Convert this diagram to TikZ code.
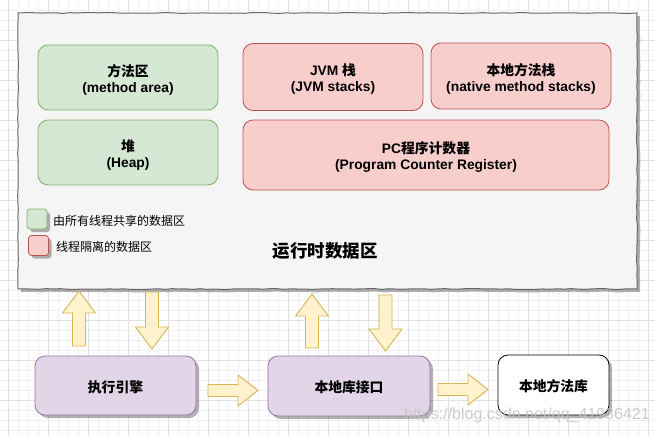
\documentclass[tikz,border=0pt]{standalone}
\usepackage{fontspec}
\setmainfont{Liberation Sans}
\newfontfamily\cjk{Noto Sans CJK SC}
\usetikzlibrary{shadows,decorations.pathmorphing}
\definecolor{gfill}{HTML}{D5E8D4}\definecolor{gline}{HTML}{82B366}
\definecolor{rfill}{HTML}{F8CECC}\definecolor{rline}{HTML}{B85450}
\definecolor{pfill}{HTML}{E1D5E7}\definecolor{pline}{HTML}{9673A6}
\definecolor{yfill}{HTML}{FFF2CC}\definecolor{yline}{HTML}{D6B656}
\definecolor{bgfill}{HTML}{F5F5F5}\definecolor{bgline}{HTML}{666666}
\definecolor{gridminor}{HTML}{F1F1F1}\definecolor{gridmajor}{HTML}{E2E2E2}
\definecolor{wmark}{HTML}{C4C4C4}
\newcommand\blkup[3]{\draw[blk] (#1-6.5,#3) -- (#1-6.5,#2+22) -- (#1-16.5,#2+22) -- (#1,#2) -- (#1+16.5,#2+22) -- (#1+6.5,#2+22) -- (#1+6.5,#3) -- cycle;}
\newcommand\blkdown[3]{\draw[blk] (#1-6.5,#2) -- (#1-6.5,#3-22) -- (#1-16.5,#3-22) -- (#1,#3) -- (#1+16.5,#3-22) -- (#1+6.5,#3-22) -- (#1+6.5,#2) -- cycle;}
\newcommand\blkright[3]{\draw[blk] (#2,#1-6) -- (#3-20,#1-6) -- (#3-20,#1-15.5) -- (#3,#1) -- (#3-20,#1+15.5) -- (#3-20,#1+6) -- (#2,#1+6) -- cycle;}
\begin{document}
\begin{tikzpicture}[x=1pt,y=-1pt,
  box/.style={draw, rounded corners=10pt, line width=0.8pt, inner sep=0pt},
  txt/.style={align=center, inner sep=0pt, font=\bfseries\fontsize{13.8}{16}\selectfont},
  greenbox/.style={box, fill=gfill, draw=gline, minimum width=180pt, minimum height=65pt},
  redbox/.style={box, fill=rfill, draw=rline, minimum width=180pt, minimum height=67pt},
  shadowed/.style={drop shadow={shadow xshift=3pt, shadow yshift=-3pt, opacity=0.3, fill=black}},
  purplebox/.style={box, fill=pfill, draw=pline, shadowed},
  whitebox/.style={box, fill=white, draw=black, shadowed},
  legbox/.style={draw, rounded corners=3pt, line width=0.8pt, minimum size=20pt, inner sep=0pt, shadowed},
  legtext/.style={anchor=west, inner sep=0pt, font=\fontsize{12}{14}\selectfont},
  blk/.style={fill=yfill, draw=yline, line width=0.9pt, line join=miter},
  sketch/.style={decorate, decoration={random steps, segment length=7pt, amplitude=0.4pt}}
]
\useasboundingbox (0,0) rectangle (655,436);
\fill[white] (0,0) rectangle (655,436);
% grid
\foreach \i in {0,...,64} \draw[gridminor, line width=0.6pt] (8.3+10*\i,0) -- (8.3+10*\i,436);
\foreach \j in {1,...,43} \draw[gridminor, line width=0.6pt] (0,10*\j) -- (655,10*\j);
\foreach \i in {0,...,16} \draw[gridmajor, line width=0.6pt] (8.3+40*\i,0) -- (8.3+40*\i,436);
\foreach \j in {1,...,10} \draw[gridmajor, line width=0.6pt] (0,40*\j) -- (655,40*\j);
% runtime data area
\pgfmathsetseed{11}
\fill[black, opacity=0.3, sketch] (21,16) rectangle (640,292);
\pgfmathsetseed{11}
\draw[draw=bgline, fill=bgfill, line width=1pt, sketch] (18,13) rectangle (637,289);
\node[greenbox] (method) at (128,77.5) {};
\node[txt] (methodt) at ([yshift=-2.5pt]method.center) {{\cjk 方法区}\\(method area)};
\node[greenbox] (heap) at (128,152.5) {};
\node[txt] (heapt) at ([yshift=-2.5pt]heap.center) {{\cjk 堆}\\(Heap)};
\node[redbox] (jvm) at (333,77) {};
\node[txt] (jvmt) at ([yshift=-2.5pt]jvm.center) {JVM {\cjk 栈}\\(JVM stacks)};
\node[redbox, minimum height=66pt] (native) at (521,76) {};
\node[txt] (nativet) at ([yshift=-2.5pt]native.center) {{\cjk 本地方法栈}\\(native method stacks)};
\node[redbox, minimum width=366pt, minimum height=70pt] (pc) at (426,155) {};
\node[txt] (pct) at ([yshift=-2pt]pc.center) {PC{\cjk 程序计数器}\\(Program Counter Register)};
\node[legbox, fill=gfill, draw=gline] (lg) at (37,219) {};
\node[legbox, fill=rfill, draw=rline] (lr) at (38.5,245.5) {};
\node[legtext] (lgt) at (53,221) {\cjk 由所有线程共享的数据区};
\node[legtext] (lrt) at (56,247) {\cjk 线程隔离的数据区};
\node[font=\cjk\bfseries\fontsize{17.5}{20}\selectfont, inner sep=0pt] (title) at (325,251) {运行时数据区};
% arrows
\blkup{79}{291}{346}
\blkdown{152}{292}{349}
\blkup{312}{294}{348}
\blkdown{385.5}{295}{351}
\blkright{390.5}{208}{258}
\blkright{389.5}{438}{488}
% bottom boxes
\node[purplebox, minimum width=161pt, minimum height=59pt] (engine) at (115.5,385.5) {};
\node[txt] (enginet) at ([yshift=-1.5pt]engine.center) {\cjk 执行引擎};
\node[purplebox, minimum width=162pt, minimum height=60pt] (iface) at (349,386) {};
\node[txt] (ifacet) at ([yshift=-1.5pt]iface.center) {\cjk 本地库接口};
\node[whitebox, minimum width=111pt, minimum height=60pt] (lib) at (553.5,385) {};
\node[txt] (libt) at ([yshift=-1.5pt]lib.center) {\cjk 本地方法库};
% watermark
\node[anchor=west, inner sep=0pt, text=wmark, text opacity=0.85, font=\fontsize{16}{18}\selectfont] (wm) at (404,415) {https://blog.csdn.net/qq\_41936421};
\end{tikzpicture}
\end{document}
